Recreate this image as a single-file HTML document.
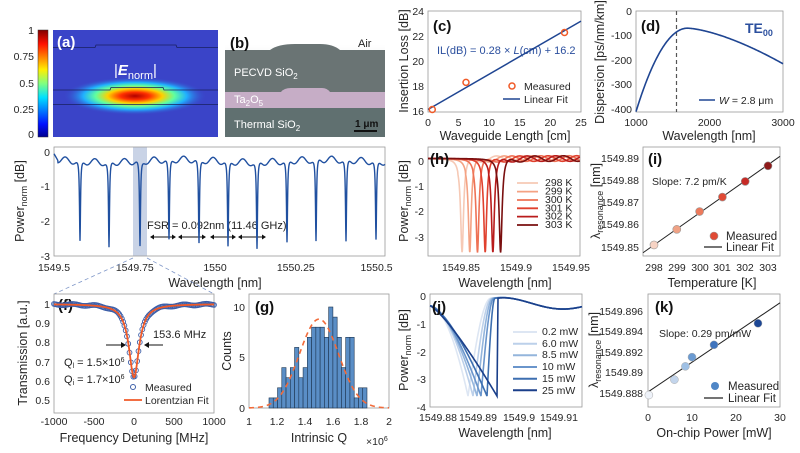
<!DOCTYPE html><html><head><meta charset="utf-8"><style>
html,body{margin:0;padding:0;background:#fff}
svg{display:block;font-family:"Liberation Sans",sans-serif}
.t{font-size:10.5px;fill:#262626}
.l{font-size:12.5px;fill:#262626}
.p{font-size:15px;font-weight:bold;fill:#111}
.ax{fill:none;stroke:#9a9a9a;stroke-width:0.8}
</style></head><body>
<svg id="s" width="800" height="453" viewBox="0 0 800 453" xmlns="http://www.w3.org/2000/svg">
<defs>
<linearGradient id="jet" x1="0" y1="1" x2="0" y2="0">
<stop offset="0" stop-color="#00008f"/><stop offset="0.12" stop-color="#0010ff"/><stop offset="0.37" stop-color="#00e0ff"/><stop offset="0.5" stop-color="#80ff80"/><stop offset="0.63" stop-color="#ffee00"/><stop offset="0.87" stop-color="#ff1000"/><stop offset="1" stop-color="#800000"/></linearGradient>
<radialGradient id="mode" cx="0.5" cy="0.5" r="0.5">
<stop offset="0" stop-color="#b00000"/><stop offset="0.2" stop-color="#ff3000"/><stop offset="0.38" stop-color="#ffd000"/><stop offset="0.55" stop-color="#60ffa0"/><stop offset="0.72" stop-color="#20b0ff"/><stop offset="1" stop-color="#3a44c8" stop-opacity="0"/></radialGradient>
<linearGradient id="airg" x1="0" y1="0" x2="0" y2="1"><stop offset="0" stop-color="#fff"/><stop offset="1" stop-color="#b8bcbc"/></linearGradient>
</defs>
<!-- (a) -->
<rect x="38" y="30" width="10" height="107" fill="url(#jet)" stroke="#333" stroke-width="0.5"/>
<g class="t" text-anchor="end"><text x="34" y="34">1</text><text x="34" y="60">0.75</text><text x="34" y="87">0.5</text><text x="34" y="113">0.25</text><text x="34" y="138">0</text></g>
<rect x="53" y="30" width="165" height="107" fill="#3a44c8"/>
<ellipse cx="135" cy="96" rx="72" ry="19" fill="url(#mode)"/>
<path d="M53 47.5H95L96 45H176L177 47.5H218M53 90H110L111 87.5H163L164 90H218M53 104.5H218" fill="none" stroke="#1a2060" stroke-width="0.8"/>
<text x="57" y="47" fill="#fff" font-size="15" font-weight="bold">(a)</text>
<text x="114" y="75" fill="#fff" font-size="15">|<tspan font-style="italic" font-weight="bold">E</tspan><tspan font-size="11" dy="4">norm</tspan><tspan dy="-4">|</tspan></text>
<!-- (b) -->
<rect x="225" y="45" width="160" height="92" fill="url(#airg)"/>
<path d="M225 50H270Q278 44 295 44H320Q333 44 340 50H385V137H225Z" fill="#6a7474"/>
<path d="M225 92H281Q284 88 291 88H322Q327 88 330 92H385V108H225Z" fill="#c6adc6"/>
<rect x="225" y="108" width="160" height="29" fill="#607070"/>
<text x="230" y="48" class="p">(b)</text>
<text x="358" y="47" font-size="11" fill="#222">Air</text>
<text x="234" y="76" font-size="11" fill="#fff">PECVD SiO<tspan font-size="8" dy="3">2</tspan></text>
<text x="234" y="103" font-size="11" fill="#fff">Ta<tspan font-size="8" dy="3">2</tspan><tspan dy="-3">O</tspan><tspan font-size="8" dy="3">5</tspan></text>
<text x="234" y="128" font-size="11" fill="#fff">Thermal  SiO<tspan font-size="8" dy="3">2</tspan></text>
<text x="355" y="127" font-size="10" fill="#111" font-weight="bold">1 μm</text>
<line x1="354" y1="131" x2="377" y2="131" stroke="#111" stroke-width="2"/>
<!-- (c) -->
<rect class="ax" x="428" y="11" width="153" height="101"/>
<g class="t" text-anchor="end"><text x="424" y="115">16</text><text x="424" y="90">18</text><text x="424" y="65">20</text><text x="424" y="40">22</text><text x="424" y="15">24</text></g>
<g class="t" text-anchor="middle"><text x="428" y="126">0</text><text x="458.6" y="126">5</text><text x="489.2" y="126">10</text><text x="519.8" y="126">15</text><text x="550.4" y="126">20</text><text x="581" y="126">25</text></g>
<text class="l" x="505" y="140" text-anchor="middle">Waveguide Length [cm]</text>
<text class="l" transform="translate(408,61) rotate(-90)" text-anchor="middle">Insertion Loss [dB]</text>
<text x="433" y="31" class="p">(c)</text>
<text x="437" y="54" font-size="11" fill="#2b4f9e">IL(dB) = 0.28 × <tspan font-style="italic">L</tspan>(cm) + 16.2</text>
<line x1="428" y1="109.5" x2="581" y2="21.1" stroke="#1f4592" stroke-width="1.5"/>
<g fill="none" stroke="#f05a28" stroke-width="1.5"><circle cx="432.3" cy="109.5" r="3"/><circle cx="466" cy="82.4" r="3"/><circle cx="564.5" cy="32.5" r="3"/></g>
<circle cx="512" cy="86" r="3" fill="none" stroke="#f05a28" stroke-width="1.5"/><text class="t" x="524" y="90" font-size="11.5">Measured</text>
<line x1="503" y1="99" x2="520" y2="99" stroke="#1f4592" stroke-width="1.5"/><text class="t" x="524" y="103" font-size="11.5">Linear Fit</text>
<!-- (d) -->
<rect class="ax" x="636" y="11" width="147" height="101"/>
<g class="t" text-anchor="end"><text x="632" y="15">0</text><text x="632" y="39">-100</text><text x="632" y="64">-200</text><text x="632" y="88">-300</text><text x="632" y="113">-400</text></g>
<g class="t" text-anchor="middle"><text x="636" y="126">1000</text><text x="709.5" y="126">2000</text><text x="783" y="126">3000</text></g>
<text class="l" x="709" y="140" text-anchor="middle">Wavelength [nm]</text>
<text class="l" transform="translate(604,62) rotate(-90)" text-anchor="middle">Dispersion [ps/nm/km]</text>
<text x="641" y="31" class="p">(d)</text>
<text x="745" y="33" font-size="14" font-weight="bold" fill="#2b4f9e">TE<tspan font-size="9" dy="3">00</tspan></text>
<line x1="676.5" y1="11" x2="676.5" y2="112" stroke="#555" stroke-width="1.2" stroke-dasharray="4,3"/>
<line x1="699" y1="100" x2="715" y2="100" stroke="#1f4592" stroke-width="1.5"/><text class="t" x="719" y="104" font-size="11.5"><tspan font-style="italic">W</tspan> = 2.8 μm</text>
<!-- (e) -->
<rect x="133" y="147" width="14" height="109" fill="#c9d3e6"/>
<rect class="ax" x="54" y="147" width="331" height="109"/>
<g class="t" text-anchor="end"><text x="50" y="156">0</text><text x="50" y="190">-1</text><text x="50" y="225">-2</text><text x="50" y="260">-3</text></g>
<g class="t" text-anchor="middle"><text x="54" y="271">1549.5</text><text x="134.8" y="271">1549.75</text><text x="215" y="271">1550</text><text x="295.8" y="271">1550.25</text><text x="376.5" y="271">1550.5</text></g>
<text class="l" x="215" y="287" text-anchor="middle">Wavelength [nm]</text>
<text class="l" transform="translate(24,201) rotate(-90)" text-anchor="middle">Power<tspan font-size="9" dy="3">norm</tspan><tspan dy="-3"> [dB]</tspan></text>
<text x="147" y="229" font-size="11" fill="#222">FSR = 0.092nm (11.46 GHz)</text>
<g stroke="#111" stroke-width="1" fill="#111" id="fsr"></g>
<path d="M133 258L54 294M147 258L214 294" stroke="#7f97c8" stroke-width="0.8" stroke-dasharray="4,3" fill="none"/>
<!-- (f) -->
<rect class="ax" x="54" y="294" width="160" height="119"/>
<g class="t" text-anchor="end"><text x="50" y="308">1</text><text x="50" y="327">0.9</text><text x="50" y="346">0.8</text><text x="50" y="366">0.7</text><text x="50" y="385">0.6</text><text x="50" y="404">0.5</text></g>
<g class="t" text-anchor="middle"><text x="54" y="425">-1000</text><text x="94" y="425">-500</text><text x="134" y="425">0</text><text x="174" y="425">500</text><text x="214" y="425">1000</text></g>
<text class="l" x="134" y="442" text-anchor="middle">Frequency Detuning [MHz]</text>
<text class="l" transform="translate(27,353) rotate(-90)" text-anchor="middle">Transmission [a.u.]</text>
<text x="58" y="310" class="p">(f)</text>
<text x="153" y="338" font-size="11" fill="#222">153.6 MHz</text>
<path d="M106 345H124M163 345H146" stroke="#111" stroke-width="1"/><path d="M126 345l-5-3v6zM144 345l5-3v6z" fill="#111"/>
<text x="64" y="366" font-size="11" fill="#222">Q<tspan font-size="7" dy="2">l</tspan><tspan dy="-2"> = 1.5×10</tspan><tspan font-size="7" dy="-4">6</tspan></text>
<text x="64" y="383" font-size="11" fill="#222">Q<tspan font-size="7" dy="2">i</tspan><tspan dy="-2"> = 1.7×10</tspan><tspan font-size="7" dy="-4">6</tspan></text>
<g id="fg"></g>
<circle cx="133" cy="387" r="2.5" fill="none" stroke="#3c5ea8" stroke-width="1"/><text class="t" x="145" y="391" font-size="11.5">Measured</text>
<line x1="124" y1="400" x2="142" y2="400" stroke="#f05a28" stroke-width="1.8"/><text class="t" x="145" y="404" font-size="11.5">Lorentzian Fit</text>
<!-- (g) -->
<rect class="ax" x="249" y="294" width="140" height="114"/>
<g class="t" text-anchor="end"><text x="245" y="412">0</text><text x="245" y="361">5</text><text x="245" y="311">10</text></g>
<g class="t" text-anchor="middle"><text x="249" y="425">1</text><text x="277" y="425">1.2</text><text x="305" y="425">1.4</text><text x="333" y="425">1.6</text><text x="361" y="425">1.8</text><text x="389" y="425">2</text></g>
<text class="l" x="319" y="442" text-anchor="middle">Intrinsic Q</text>
<text class="t" x="366" y="445">×10<tspan font-size="7" dy="-4">6</tspan></text>
<text class="l" transform="translate(231,351) rotate(-90)" text-anchor="middle">Counts</text>
<g id="gg"></g>
<text x="255" y="312" class="p">(g)</text>
<!-- (h) -->
<rect class="ax" x="428" y="147" width="152" height="109"/>
<g class="t" text-anchor="end"><text x="424" y="165">0</text><text x="424" y="190">-1</text><text x="424" y="215">-2</text><text x="424" y="241">-3</text></g>
<g class="t" text-anchor="middle"><text x="461" y="271">1549.85</text><text x="516" y="271">1549.9</text><text x="571" y="271">1549.95</text></g>
<text class="l" x="505" y="287" text-anchor="middle">Wavelength [nm]</text>
<text class="l" transform="translate(408,201) rotate(-90)" text-anchor="middle">Power<tspan font-size="9" dy="3">norm</tspan><tspan dy="-3"> [dB]</tspan></text>
<g id="hg"></g>
<text x="430" y="164" class="p">(h)</text>
<!-- (i) -->
<rect class="ax" x="643" y="147" width="137" height="109"/>
<g class="t" text-anchor="end"><text x="639" y="251">1549.85</text><text x="639" y="228">1549.86</text><text x="639" y="206">1549.87</text><text x="639" y="184">1549.88</text><text x="639" y="162">1549.89</text></g>
<g class="t" text-anchor="middle"><text x="654" y="271">298</text><text x="677" y="271">299</text><text x="700" y="271">300</text><text x="722" y="271">301</text><text x="745" y="271">302</text><text x="768" y="271">303</text></g>
<text class="l" x="712" y="287" text-anchor="middle">Temperature [K]</text>
<text class="l" transform="translate(600,201) rotate(-90)" text-anchor="middle">λ<tspan font-size="9" dy="3">resonance</tspan><tspan dy="-3"> [nm]</tspan></text>
<text x="648" y="164" class="p">(i)</text>
<text class="t" x="652" y="185" font-size="11.5">Slope: 7.2 pm/K</text>
<g id="ig"></g>
<!-- (j) -->
<rect class="ax" x="430" y="294" width="152" height="113"/>
<g class="t" text-anchor="end"><text x="426" y="300">0</text><text x="426" y="328">-1</text><text x="426" y="356">-2</text><text x="426" y="383">-3</text><text x="426" y="411">-4</text></g>
<g class="t" text-anchor="middle"><text x="438" y="421">1549.88</text><text x="478" y="421">1549.89</text><text x="519" y="421">1549.9</text><text x="559" y="421">1549.91</text></g>
<text class="l" x="505" y="437" text-anchor="middle">Wavelength [nm]</text>
<text class="l" transform="translate(408,350) rotate(-90)" text-anchor="middle">Power<tspan font-size="9" dy="3">norm</tspan><tspan dy="-3"> [dB]</tspan></text>
<g id="jg"></g>
<text x="432" y="312" class="p">(j)</text>
<!-- (k) -->
<rect class="ax" x="648" y="294" width="132" height="113"/>
<g class="t" text-anchor="end"><text x="643" y="397">1549.888</text><text x="643" y="376">1549.89</text><text x="643" y="356">1549.892</text><text x="643" y="335">1549.894</text><text x="643" y="315">1549.896</text></g>
<g class="t" text-anchor="middle"><text x="648" y="421">0</text><text x="692" y="421">10</text><text x="736" y="421">20</text><text x="780" y="421">30</text></g>
<text class="l" x="714" y="437" text-anchor="middle">On-chip Power [mW]</text>
<text class="l" transform="translate(598,350) rotate(-90)" text-anchor="middle">λ<tspan font-size="9" dy="3">resonance</tspan><tspan dy="-3"> [nm]</tspan></text>
<text x="655" y="312" class="p">(k)</text>
<text class="t" x="659" y="337" font-size="11.5">Slope: 0.29 pm/mW</text>
<g id="kg"></g>
<!-- legends h, i, j, k -->
<g id="hl" class="t" font-size="9.5"><text x="545" y="186">298 K</text><text x="545" y="194.6">299 K</text><text x="545" y="203">300 K</text><text x="545" y="211.3">301 K</text><text x="545" y="219.6">302 K</text><text x="545" y="228">303 K</text></g>
<g class="t"><text x="726" y="240" font-size="11.5">Measured</text><text x="726" y="251" font-size="11.5">Linear Fit</text></g>
<g id="jl" class="t"><text x="542" y="335">0.2 mW</text><text x="542" y="347">6.0 mW</text><text x="542" y="358">8.5 mW</text><text x="542" y="370">10 mW</text><text x="542" y="382">15 mW</text><text x="542" y="394">25 mW</text></g>
<g class="t"><text x="728" y="390" font-size="11.5">Measured</text><text x="728" y="402" font-size="11.5">Linear Fit</text></g>
<g id="dyn"></g>
</svg>
<script>
var NS="http://www.w3.org/2000/svg";
function el(parent,tag,attrs){var e=document.createElementNS(NS,tag);for(var k in attrs)e.setAttribute(k,attrs[k]);(typeof parent=="string"?document.getElementById(parent):parent).appendChild(e);return e;}
function pth(pts){return "M"+pts.map(function(p){return p[0].toFixed(2)+" "+p[1].toFixed(2)}).join("L");}
var dyn=document.getElementById("dyn");
// (d)
(function(){var pts=[];for(var w=1000;w<=3000;w+=10){var D=w<1700?-70-340*Math.pow((1700-w)/700,2):-70-145*Math.pow((w-1700)/1300,1.5);pts.push([636+(w-1000)*0.0735,11-D*0.2455]);}
el(dyn,"path",{d:pth(pts),fill:"none",stroke:"#1f4592","stroke-width":1.6});})();
// (e)
(function(){var dips=[80,109,140,169,199,228,257,287,316,346,376],dep=[2.65,2.8,2.8,2.65,2.75,2.8,2.85,2.7,2.7,2.7,2.6];var pts=[];
for(var x=54;x<=385;x+=0.25){var v=-0.24+0.09*Math.cos(2*Math.PI*2*(x-80)/29.6)+0.04*Math.sin(x/23);
for(var i=0;i<dips.length;i++){var d=(x-dips[i])/0.6;v-=(dep[i]-0.25)/(1+d*d);}
if(x<58)v=Math.max(v,-0.05-(x-54)*0.05);pts.push([x,152-v*34.67]);}
el(dyn,"path",{d:pth(pts),fill:"none",stroke:"#2050a0","stroke-width":1.4});
var f=document.getElementById("fsr");[[150,176],[178,206],[210,236],[238,266]].forEach(function(a){el(f,"line",{x1:a[0]+3,y1:237,x2:a[1]-3,y2:237});el(f,"path",{d:"M"+a[0]+" 237l4-2.5v5zM"+a[1]+" 237l-4-2.5v5z",stroke:"none"});});})();
// (f)
(function(){var g=document.getElementById("fg");function T(f){return 1-0.38/(1+Math.pow(f/76.8,2));}
for(var f=-1000;f<=1000;f+=16){var n=0.004*Math.sin(f*0.37);el(g,"circle",{cx:134+f*0.08,cy:304+(1-T(f)-n)*193,r:2.4,fill:"none",stroke:"#3c5ea8","stroke-width":0.9});}
var pts=[];for(var f=-1000;f<=1000;f+=4)pts.push([134+f*0.08,304+(1-T(f))*193]);el(g,"path",{d:pth(pts),fill:"none",stroke:"#f05a28","stroke-width":1.8});})();
// (g)
(function(){var g=document.getElementById("gg");var c=[1,1,2,4,3,4,6,3,4,7,8,8,8,7,10,9,7,4,7,7,1,2,2];
c.forEach(function(n,i){el(g,"rect",{x:269+i*4.26,y:408-n*10.1,width:4.26,height:n*10.1,fill:"#5a8ec6",stroke:"#1d3550","stroke-width":0.6});});
var pts=[];for(var q=1;q<=2;q+=0.005)pts.push([249+(q-1)*140,408-8.8*Math.exp(-Math.pow(q-1.5,2)/(2*0.14*0.14))*10.1]);
el(g,"path",{d:pth(pts),fill:"none",stroke:"#f26b3a","stroke-width":1.6,"stroke-dasharray":"5,4"});})();
// (h)
(function(){var g=document.getElementById("hg");var cols=["#f6c9b5","#f4a283","#ee7255","#e0412e","#b91c1c","#7a0f0f"];var ld=[1549.851,1549.858,1549.865,1549.872,1549.879,1549.886];
ld.forEach(function(d,i){var pts=[];for(var l=1549.82;l<=1549.958;l+=0.0003){var u=(l-d)/0.0016;var v=-3.75/(1+u*u)+0.1;
if(l>d-0.004)v+=0.11*Math.sin(2*Math.PI*(l-d)/0.026+0.3);
var x=461+(l-1549.85)*1100;if(x<428||x>580)continue;pts.push([x,161-v*25.3]);}
el(g,"path",{d:pth(pts),fill:"none",stroke:cols[i],"stroke-width":1.6});
var y=[183,191.6,200,208.3,216.6,225][i];el(g,"line",{x1:517,y1:y,x2:538,y2:y,stroke:cols[i],"stroke-width":1.8});});})();
// (i)
(function(){var g=document.getElementById("ig");function X(t){return 654+(t-298)*22.8}function Y(l){return 158+(1549.89-l)*2230}
el(g,"line",{x1:643,y1:Y(1549.8475),x2:780,y2:Y(1549.8475+0.0072*(780-643)/22.8),stroke:"#222","stroke-width":1});
var c=["#f6d3c4","#f0a285","#ec7a5c","#e04a35","#c62a26","#8e1a1a"],l=[1549.851,1549.858,1549.866,1549.8725,1549.8795,1549.8865];
for(var i=0;i<6;i++)el(g,"circle",{cx:X(298+i),cy:Y(l[i]),r:4,fill:c[i],stroke:"#999","stroke-width":0.6});
el(g,"circle",{cx:714,cy:236,r:4,fill:"#e04a35",stroke:"#999","stroke-width":0.6});el(g,"line",{x1:704,y1:247,x2:722,y2:247,stroke:"#222","stroke-width":1.2});})();
// (j)
(function(){var g=document.getElementById("jg");var cols=["#dde6f3","#bcd0ea","#94b5dc","#6a95cb","#3d6fb0","#1a3f8a"];var xd=[468,473,477,481,487,497],xp=[491,492,493,494,495,498],ex=[1.9,1.8,1.7,1.6,1.5,1.25];
function post(x){return x<498?-0.03:-0.44*Math.pow(Math.sin(Math.PI*(x-498)/130),2)-0.03;}
for(var i=0;i<6;i++){var pts=[];for(var x=430;x<=582;x+=0.5){var v;
if(x<=xd[i])v=-0.35-3.25*Math.pow((x-430)/(xd[i]-430),ex[i]);
else if(x<=xp[i]){var s=(x-xd[i])/(xp[i]-xd[i]);s=i==5?s:Math.sin(s*Math.PI/2);v=-3.6+(3.6+post(x)-0.05)*s;}
else v=post(x)-0.05*Math.exp(-(x-xp[i])/10);
pts.push([x,296-v*27.8]);}
el(g,"path",{d:pth(pts),fill:"none",stroke:cols[i],"stroke-width":1.6});
var y=[332,343.7,355.3,367,378.7,390.3][i];el(g,"line",{x1:513,y1:y,x2:537,y2:y,stroke:cols[i],"stroke-width":2});}})();
// (k)
(function(){var g=document.getElementById("kg");function X(p){return 648+p*4.4}function Y(l){return 311+(1549.896-l)*10250}
el(g,"line",{x1:X(0),y1:Y(1549.8881),x2:X(30),y2:Y(1549.8881+0.00029*30),stroke:"#222","stroke-width":1});
var c=["#eef2f9","#c3d5ec","#9fc0e4","#6b9bd2","#3f74bd","#1d4795"],p=[[0.2,1549.8878],[6,1549.8893],[8.5,1549.8906],[10,1549.8915],[15,1549.8927],[25,1549.8948]];
for(var i=0;i<6;i++)el(g,"circle",{cx:X(p[i][0]),cy:Y(p[i][1]),r:4,fill:c[i],stroke:"#aaa","stroke-width":0.5});
el(g,"circle",{cx:715,cy:386,r:4,fill:"#4f86c6"});el(g,"line",{x1:704,y1:398,x2:723,y2:398,stroke:"#222","stroke-width":1.2});})();
</script>
</body></html>
